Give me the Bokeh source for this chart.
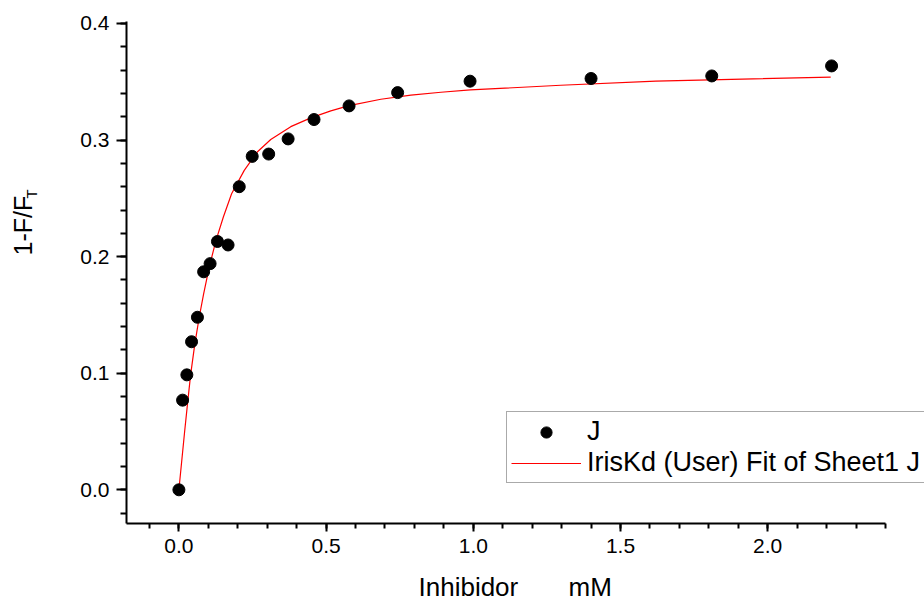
import numpy as np
from bokeh.plotting import figure
from bokeh.models import (Range1d, SingleIntervalTicker, NumeralTickFormatter,
                          Legend, LegendItem, Label)
from bokeh.embed import file_html
from bokeh.resources import INLINE

# Measured data (J)
conc_mM = [0.0, 0.0125, 0.027, 0.043, 0.063, 0.084, 0.106, 0.131, 0.167, 0.205,
           0.249, 0.305, 0.371, 0.459, 0.578, 0.743, 0.989, 1.400, 1.810, 2.217]
signal = [0.0, 0.0769, 0.0986, 0.127, 0.148, 0.187, 0.194, 0.213, 0.210, 0.260,
          0.286, 0.288, 0.301, 0.3176, 0.3293, 0.3407, 0.3505, 0.3528, 0.355, 0.3636]

# Fit curve (IrisKd (User) Fit of Sheet1 J)
fit_x = [0.0, 0.0195, 0.031, 0.040, 0.054, 0.069, 0.084, 0.103, 0.126, 0.151,
         0.179, 0.222, 0.267, 0.312, 0.380, 0.448, 0.516, 0.578, 0.686, 0.788,
         0.890, 0.990, 1.297, 1.620, 2.214]
fit_y = [0.0, 0.050, 0.078, 0.099, 0.125, 0.148, 0.168, 0.191, 0.214, 0.234,
         0.254, 0.274, 0.290, 0.3005, 0.3115, 0.319, 0.325, 0.3295, 0.335, 0.3385,
         0.341, 0.343, 0.347, 0.3505, 0.354]

# axis extents of the original chart
x_axis_lo, x_axis_hi = -0.178, 2.4
y_axis_lo, y_axis_hi = -0.0289, 0.4017

x_title_a = "Inhibidor"
x_title_b = "mM"
y_title_main = "1-F/F"
y_title_sub = "T"
legend_labels = ["J", "IrisKd (User) Fit of Sheet1 J"]

FONT = "Liberation Sans"
W, H = 924, 602
# frame spans the whole canvas; axes sit at fixed positions inside it
x_px0, x_scale = 178.4, 294.4      # px of x=0, px per unit
y_px0, y_scale = 489.3, 1165.8     # px (from top) of y=0, px per unit

p = figure(width=W, height=H, output_backend="svg", toolbar_location=None,
           x_range=Range1d(-x_px0 / x_scale, (W - x_px0) / x_scale),
           y_range=Range1d((y_px0 - H) / y_scale, y_px0 / y_scale),
           min_border=0, min_border_left=0, min_border_right=0,
           min_border_top=0, min_border_bottom=0)
p.outline_line_color = None
p.xgrid.visible = False
p.ygrid.visible = False
p.background_fill_color = "white"
p.border_fill_color = "white"

xa = p.xaxis[0]
xa.fixed_location = y_axis_lo
xa.bounds = (x_axis_lo, x_axis_hi)
xa.ticker = SingleIntervalTicker(interval=0.5, num_minor_ticks=5)
xa.formatter = NumeralTickFormatter(format="0.0")
xa.axis_line_width = 2
xa.major_tick_line_width = 2
xa.minor_tick_line_width = 2
xa.major_tick_out = 8
xa.major_tick_in = 0
xa.minor_tick_out = 5
xa.minor_tick_in = 0
xa.major_label_text_font = FONT
xa.major_label_text_font_size = "21px"
xa.major_label_text_color = "black"
xa.major_label_standoff = 8

ya = p.yaxis[0]
ya.fixed_location = x_axis_lo
ya.bounds = (y_axis_lo, y_axis_hi)
ya.ticker = SingleIntervalTicker(interval=0.1, num_minor_ticks=5)
ya.formatter = NumeralTickFormatter(format="0.0")
ya.axis_line_width = 2
ya.major_tick_line_width = 2
ya.minor_tick_line_width = 2
ya.major_tick_out = 10
ya.major_tick_in = 0
ya.minor_tick_out = 6
ya.minor_tick_in = 0
ya.major_label_text_font = FONT
ya.major_label_text_font_size = "21px"
ya.major_label_text_color = "black"
ya.major_label_standoff = 7

def title_label(x, y, text, size, angle=0.0):
    return Label(x=x, y=y, x_units="screen", y_units="screen", text=text,
                 angle=angle, text_font=FONT, text_font_size=size,
                 text_color="black", text_align="left", text_baseline="alphabetic")

# y-axis title with subscript
p.add_layout(title_label(22, 347, y_title_main, "25px", np.pi / 2))
p.add_layout(title_label(31, 404, y_title_sub, "15px", np.pi / 2))
# x-axis title (two words, wide gap as in the original)
p.add_layout(title_label(418, 16, x_title_a, "26px"))
p.add_layout(title_label(568, 16, x_title_b, "26px"))

line_r = p.line(fit_x, fit_y, line_color="#ff0000", line_width=1.2)
pts_r = p.scatter(conc_mM, signal, size=12, marker="circle", fill_color="black",
                  line_color="black")

legend = Legend(items=[LegendItem(label=legend_labels[0], renderers=[pts_r]),
                       LegendItem(label=legend_labels[1], renderers=[line_r])],
                location=(506, 119), padding=4, spacing=0, margin=0,
                glyph_width=70, glyph_height=28, label_height=28, label_standoff=6,
                label_text_font=FONT, label_text_font_size="27px",
                label_text_color="black",
                border_line_color="#555555", border_line_width=1,
                background_fill_color="white", background_fill_alpha=1)
p.add_layout(legend, "center")

open("out.html", "w").write(file_html(p, INLINE))
